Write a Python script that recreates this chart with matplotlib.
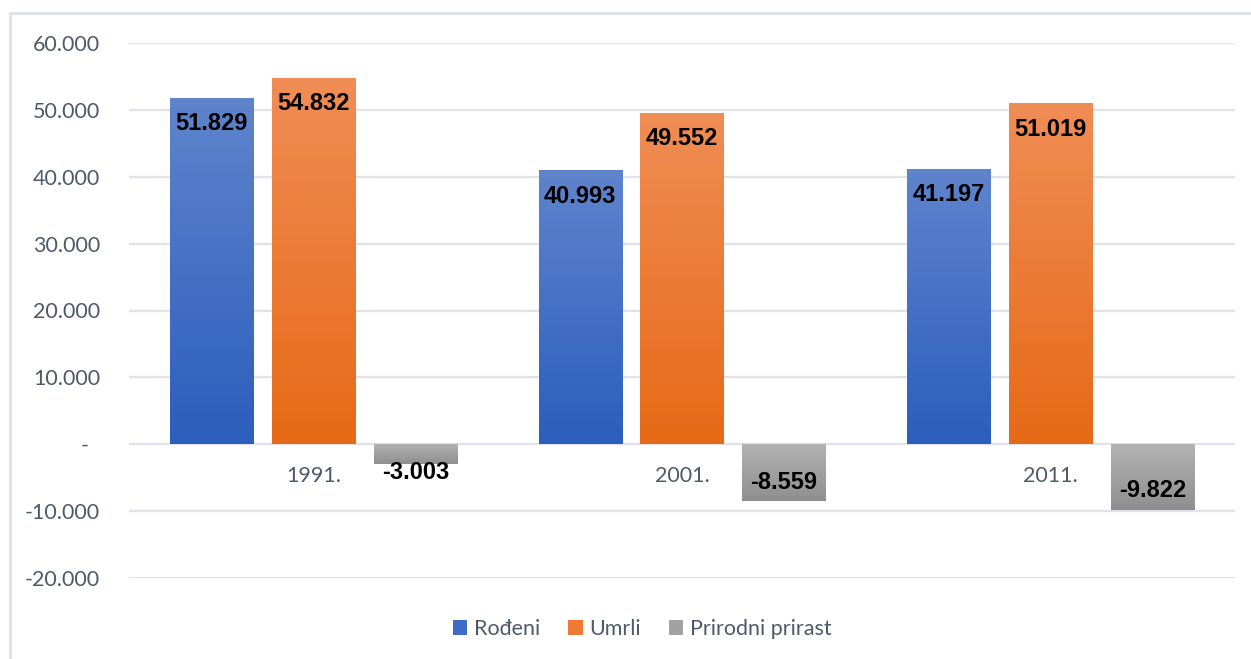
import numpy as np
import matplotlib
matplotlib.use('Agg')
import matplotlib.pyplot as plt
from matplotlib.colors import LinearSegmentedColormap
from matplotlib.lines import Line2D
from matplotlib.patches import Patch

# data
years = ['1991.', '2001.', '2011.']
series = ['Rođeni', 'Umrli', 'Prirodni prirast']
rodeni = [51829, 40993, 41197]
umrli = [54832, 49552, 51019]
prirast = [-3003, -8559, -9822]
value_labels = {
    'Rođeni': ['51.829', '40.993', '41.197'],
    'Umrli': ['54.832', '49.552', '51.019'],
    'Prirodni prirast': ['-3.003', '-8.559', '-9.822'],
}

# gradient (top, bottom) and legend colours
grad = {
    'Rođeni': ('#5f84cc', '#2c5ebd'),
    'Umrli': ('#f08d55', '#e66a17'),
    'Prirodni prirast': ('#b3b3b3', '#8f8f8f'),
}
legend_col = {'Rođeni': '#3d6cc6', 'Umrli': '#ee7a35', 'Prirodni prirast': '#a2a2a2'}

tick_color = '#4e5a6a'
grid_color = '#dfe3e8'
fsize = 15.5

fig = plt.figure(figsize=(12.51, 6.59), dpi=100)
ax = fig.add_axes([129.25 / 1251, 1 - 578 / 659, 1105.5 / 1251, 535 / 659])

ax.set_xlim(-0.5, 2.5)
ax.set_ylim(-20000, 60000)
ax.set_yticks(np.arange(-20000, 60001, 10000))
ax.yaxis.set_major_formatter(
    plt.FuncFormatter(lambda v, p: '-  ' if v == 0 else f'{int(v):,}'.replace(',', '.')))
ax.set_xticks([])
ax.tick_params(axis='y', length=0, pad=21, labelsize=fsize, labelcolor=tick_color)
for lbl in ax.get_yticklabels():
    lbl.set_fontfamily('Lato')
for s in ax.spines.values():
    s.set_visible(False)
ax.yaxis.grid(True, color=grid_color, linewidth=1.6)
ax.set_axisbelow(True)

x = np.arange(len(years))
width = 0.2253
step = 0.2767
values = {'Rođeni': rodeni, 'Umrli': umrli, 'Prirodni prirast': prirast}

for k, name in enumerate(series):
    vals = values[name]
    bars = ax.bar(x + (k - 1) * step, vals, width, color=legend_col[name], zorder=2)
    cmap = LinearSegmentedColormap.from_list(name, [grad[name][1], grad[name][0]])
    for b, v, txt in zip(bars, vals, value_labels[name]):
        x0 = b.get_x()
        y0, y1 = sorted([0, v])
        g = np.linspace(0, 1, 100).reshape(-1, 1)
        im = ax.imshow(g, cmap=cmap, origin='lower', aspect='auto',
                       extent=[x0, x0 + b.get_width(), y0, y1], zorder=3)
        im.set_clip_path(b)
        if v > 0:
            ly = v - 3890
        else:
            ly = min(v + 2840, -4190)
        ax.text(x0 + b.get_width() / 2, ly, txt, ha='center', va='center',
                fontsize=17, fontweight='bold', family='Liberation Sans',
                color='black', zorder=4)

ax.set_xlim(-0.5, 2.5)
ax.set_ylim(-20000, 60000)

for i, yr in enumerate(years):
    ax.annotate(yr, (i, 0), xytext=(0, -23), textcoords='offset points',
                ha='center', va='center', fontsize=fsize, family='Lato', color=tick_color)

handles = [Patch(facecolor=legend_col[s], edgecolor='none') for s in series]
leg = fig.legend(handles, series, loc='center', bbox_to_anchor=(642 / 1251, 1 - 629 / 659),
                 ncol=3, frameon=False, handlelength=0.68, handleheight=0.68,
                 handletextpad=0.3, columnspacing=1.3,
                 prop={'family': 'Lato', 'size': fsize})
for t in leg.get_texts():
    t.set_color(tick_color)

# outer chart border (left and top)
fig.add_artist(Line2D([10 / 1251, 10 / 1251], [0, 1 - 13 / 659], color=grid_color, linewidth=2))
fig.add_artist(Line2D([10 / 1251, 1], [1 - 13 / 659, 1 - 13 / 659], color=grid_color, linewidth=2))

fig.savefig('out.png', dpi=100, facecolor='white')
